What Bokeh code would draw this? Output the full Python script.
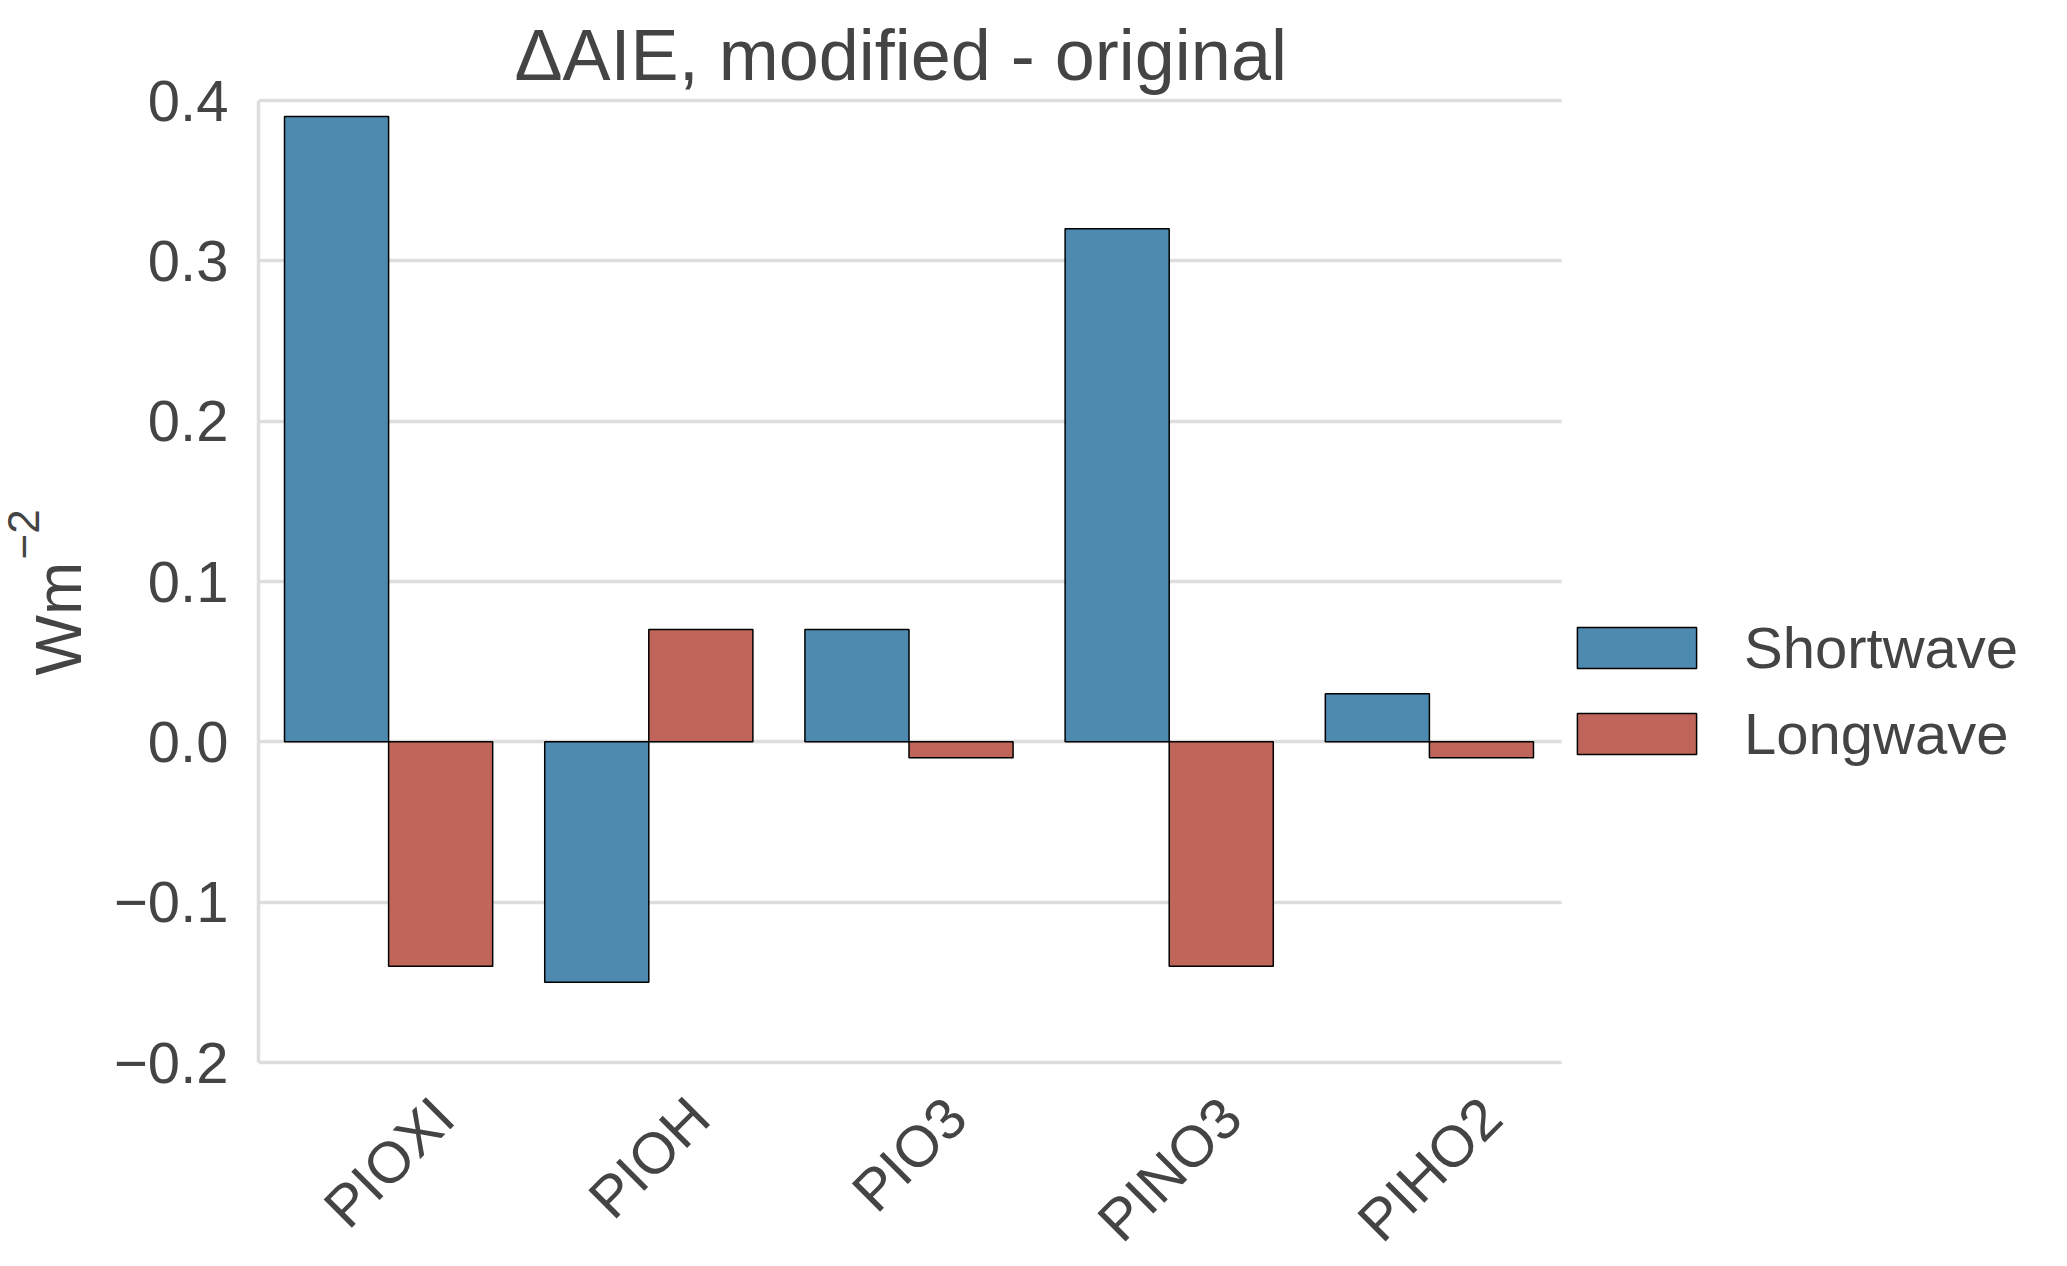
import math
from bokeh.plotting import figure
from bokeh.models import (ColumnDataSource, Range1d, FixedTicker, CustomJSTickFormatter,
                          Legend, LegendItem, Title, BoxAnnotation)
from bokeh.core.properties import value
from bokeh.transform import dodge
from bokeh.embed import file_html
from bokeh.resources import INLINE

# ---- data ----
categories = ["PIOXI", "PIOH", "PIO3", "PINO3", "PIHO2"]
shortwave = [0.39, -0.15, 0.07, 0.32, 0.03]
longwave = [-0.14, 0.07, -0.01, -0.14, -0.01]
series_names = ["Shortwave", "Longwave"]
y_ticks = [-0.2, -0.1, 0.0, 0.1, 0.2, 0.3, 0.4]
title_text = "\u0394AIE, modified - original"
y_label = "Wm"
y_label_sup = "\u22122"

# ---- style / layout ----
FONT = "Liberation Sans"
TXT = "#444444"
BLUE = "#4e8ab0"
RED = "#c0655a"
GRID = "#dddddd"
TICK_PX = 58
AXES_W, AXES_H = 1301, 962          # size of the axes box (pixels)
LEFT, TOP_AXES = 258, 100            # position of the axes box on the page
TOP_PAD, BOTTOM_EXT, RIGHT_EXT = 4, 196, 500

n = len(categories)
xpos = list(range(n))
x_lo, x_hi_axes = -0.5, n - 0.5
x_per_px = n / AXES_W
y0, y1 = y_ticks[0], y_ticks[-1]
y_per_px = (y1 - y0) / AXES_H
FRAME_H = AXES_H + TOP_PAD + BOTTOM_EXT

CHAR_W = {"P": 0.667, "I": 0.278, "O": 0.778, "X": 0.667, "H": 0.722, "N": 0.722,
          "2": 0.556, "3": 0.556}


def rotated_half_extent(s):
    w = sum(CHAR_W.get(c, 0.6) for c in s) * TICK_PX - 0.15 * TICK_PX
    return (w + 0.716 * TICK_PX) / (2 * math.sqrt(2))


source = ColumnDataSource(dict(x=xpos, cat=categories, sw=shortwave, lw=longwave,
                               y=[y0] * n,
                               yoff=[33 + rotated_half_extent(c) for c in categories]))

p = figure(x_range=Range1d(x_lo, x_hi_axes + RIGHT_EXT * x_per_px),
           y_range=Range1d(y0 - BOTTOM_EXT * y_per_px, y1 + TOP_PAD * y_per_px),
           frame_width=AXES_W + RIGHT_EXT, frame_height=FRAME_H,
           output_backend="svg", toolbar_location=None,
           min_border_left=LEFT, min_border_right=0, min_border_top=TOP_AXES - TOP_PAD,
           min_border_bottom=0, title=title_text)

r1 = p.vbar(x=dodge("x", -0.2), top="sw", bottom=0, width=0.4,
            source=source, fill_color=BLUE, line_color="black", line_width=1.5)
r2 = p.vbar(x=dodge("x", 0.2), top="lw", bottom=0, width=0.4,
            source=source, fill_color=RED, line_color="black", line_width=1.5)

# category labels, rotated 45 degrees and centred under each group
p.text(x="x", y="y", text="cat", y_offset="yoff", source=source, angle=math.pi / 4,
       text_align="center", text_baseline="middle", text_font=value(FONT),
       text_font_size=f"{TICK_PX}px", text_color=TXT)

p.outline_line_color = None
p.background_fill_color = "white"
p.border_fill_color = "white"
p.xgrid.visible = False
p.xaxis.visible = False

p.yaxis.ticker = FixedTicker(ticks=y_ticks)
p.ygrid.grid_line_color = GRID
p.ygrid.grid_line_width = 3.5
# hide grid lines beyond the axes box (legend area)
p.add_layout(BoxAnnotation(left=x_hi_axes + 2 * x_per_px, fill_color="white", fill_alpha=1,
                           line_color=None, level="underlay"))

p.yaxis.formatter = CustomJSTickFormatter(code="return tick.toFixed(1).replace('-', '\\u2212');")
ax = p.yaxis[0]
ax.bounds = (y0, y1)
ax.axis_line_color = GRID
ax.axis_line_width = 3.5
ax.major_tick_line_color = None
ax.minor_tick_line_color = None
ax.major_tick_in = 0
ax.major_tick_out = 0
ax.minor_tick_in = 0
ax.minor_tick_out = 0
ax.major_label_text_font = FONT
ax.major_label_text_font_size = f"{TICK_PX}px"
ax.major_label_text_color = TXT
ax.major_label_standoff = 30

p.title.text_font = FONT
p.title.text_font_size = "72px"
p.title.text_font_style = "normal"
p.title.text_color = TXT
p.title.align = "left"
p.title.offset = 256
p.title.standoff = 4

ylab = Title(text=y_label, align="left", offset=583, standoff=34, text_font=FONT,
             text_font_size="64px", text_font_style="normal", text_color=TXT)
p.add_layout(ylab, "left")
ysup = Title(text=y_label_sup, align="left", offset=699, standoff=-71, text_font=FONT,
             text_font_size="44px", text_font_style="normal", text_color=TXT)
p.add_layout(ysup, "left")

legend = Legend(items=[LegendItem(label=series_names[0], renderers=[r1]),
                       LegendItem(label=series_names[1], renderers=[r2])],
                location=(AXES_W + 3, 491), glyph_width=149, glyph_height=51,
                label_height=41, label_standoff=33, spacing=19, padding=0, margin=0,
                border_line_color=None, background_fill_alpha=0,
                label_text_font=FONT, label_text_font_size=f"{TICK_PX}px",
                label_text_color=TXT)
p.add_layout(legend, "center")

open("out.html", "w").write(file_html(p, INLINE))
